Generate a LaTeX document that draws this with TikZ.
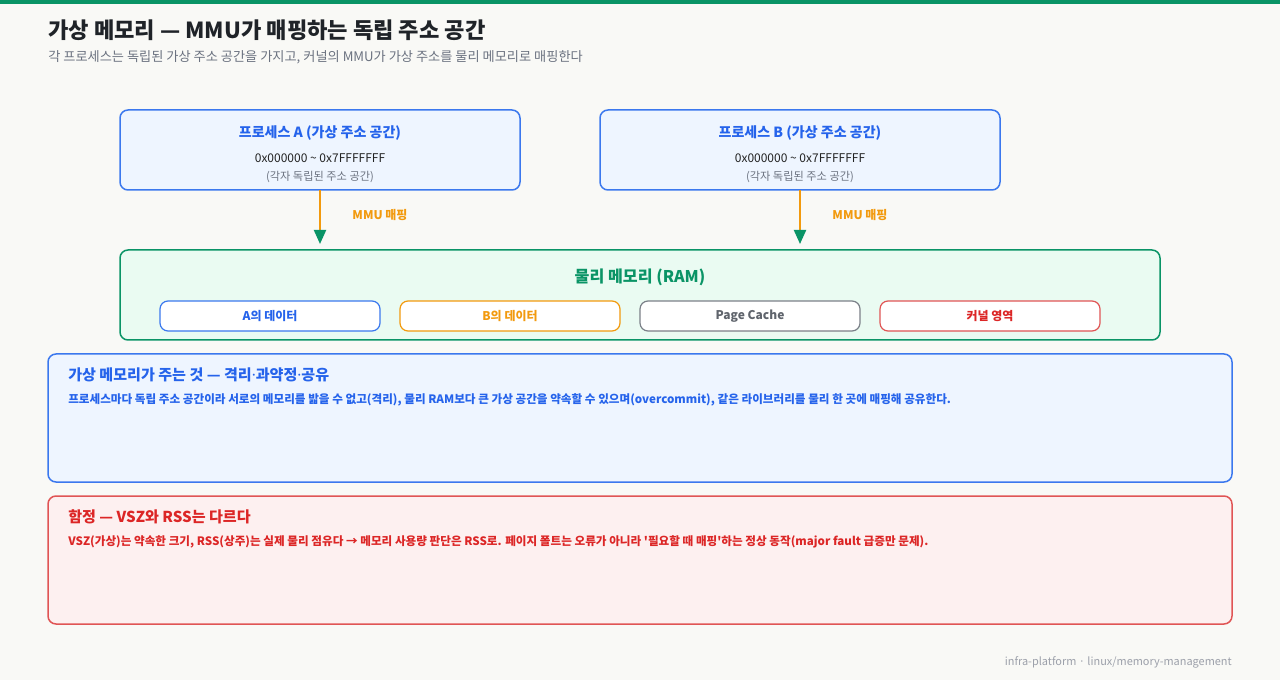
\documentclass[tikz,border=0pt]{standalone}
\usepackage{fontspec}
\setmainfont{Noto Sans CJK KR}
\newfontfamily\latinf{Noto Sans}
\newcommand{\mdot}{{\latinf ·}}
\usetikzlibrary{arrows.meta}
\definecolor{bg}{HTML}{F9F9F6}
\definecolor{topbar}{HTML}{0A9466}
\definecolor{titlec}{HTML}{1F2328}
\definecolor{subc}{HTML}{6B7280}
\definecolor{blueT}{HTML}{2563EB}
\definecolor{blueB}{HTML}{3B78EE}
\definecolor{blueF}{HTML}{EEF5FF}
\definecolor{orangeC}{HTML}{F29A0E}
\definecolor{greenC}{HTML}{0A9466}
\definecolor{greenF}{HTML}{EAFBF2}
\definecolor{grayB}{HTML}{7B8088}
\definecolor{grayT}{HTML}{5F646C}
\definecolor{redT}{HTML}{DC2626}
\definecolor{redB}{HTML}{E05555}
\definecolor{redF}{HTML}{FDF0F0}
\definecolor{darkT}{HTML}{222222}
\definecolor{footc}{HTML}{9CA0AA}
\tikzset{
  procbox/.style={draw=blueB, fill=blueF, line width=1.5pt*0.75, rounded corners=6pt},
  rambox/.style={draw=greenC, fill=greenF, line width=1.5pt*0.75, rounded corners=6pt},
  cell/.style={fill=white, line width=1.2pt*0.75, rounded corners=6pt, minimum width=220*0.75pt, minimum height=30*0.75pt, inner sep=0pt, font=\fontsize{9}{10}\selectfont\bfseries},
  infobox/.style={line width=1.5pt*0.75, rounded corners=6pt},
  maparrow/.style={draw=orangeC, line width=2pt*0.75, -{Triangle[length=14*0.75pt, width=12*0.75pt, fill=greenC, color=greenC]}},
  lbl/.style={inner sep=0pt},
}
\begin{document}
\begin{tikzpicture}[x=0.75pt, y=-0.75pt]
\useasboundingbox (0,0) rectangle (1280,680);
\fill[bg] (0,0) rectangle (1280,680);
\fill[topbar] (0,0) rectangle (1280,4);
% title
\node[lbl, anchor=west, text=titlec, font=\fontsize{16.6}{19}\selectfont\bfseries] (title) at (48,30) {가상 메모리 — MMU가 매핑하는 독립 주소 공간};
\node[lbl, anchor=west, text=subc, font=\fontsize{9.9}{12}\selectfont] (sub) at (48,57) {각 프로세스는 독립된 가상 주소 공간을 가지고, 커널의 MMU가 가상 주소를 물리 메모리로 매핑한다};
% process boxes
\draw[procbox] (120,110) rectangle (520,190);
\coordinate (pA) at (320,190);
\node[lbl, text=blueT, font=\fontsize{10.5}{12}\selectfont\bfseries] (pAt) at (320,133) {프로세스 A (가상 주소 공간)};
\node[lbl, text=darkT, font=\fontsize{9}{10}\selectfont] (pAr) at (320,158) {0x000000 \textasciitilde{} 0x7FFFFFFF};
\node[lbl, text=subc, font=\fontsize{8.4}{10}\selectfont] (pAn) at (320,177) {(각자 독립된 주소 공간)};
\draw[procbox] (600,110) rectangle (1000,190);
\coordinate (pB) at (800,190);
\node[lbl, text=blueT, font=\fontsize{10.5}{12}\selectfont\bfseries] (pBt) at (800,133) {프로세스 B (가상 주소 공간)};
\node[lbl, text=darkT, font=\fontsize{9}{10}\selectfont] (pBr) at (800,158) {0x000000 \textasciitilde{} 0x7FFFFFFF};
\node[lbl, text=subc, font=\fontsize{8.4}{10}\selectfont] (pBn) at (800,177) {(각자 독립된 주소 공간)};
% RAM
\draw[rambox] (120,250) rectangle (1160,340);
\coordinate (rA) at (320,244);
\coordinate (rB) at (800,244);
\node[lbl, text=greenC, font=\fontsize{12.1}{14}\selectfont\bfseries] (ramt) at (640,277) {물리 메모리 (RAM)};
\node[cell, draw=blueB, text=blueT] (c1) at (270,316) {A의 데이터};
\node[cell, draw=orangeC, text=orangeC] (c2) at (510,316) {B의 데이터};
\node[cell, draw=grayB, text=grayT] (c3) at (750,316) {Page Cache};
\node[cell, draw=redB, text=redT] (c4) at (990,316) {커널 영역};
% arrows
\draw[maparrow] (pA) -- (rA);
\draw[maparrow] (pB) -- (rB);
\node[lbl, text=orangeC, font=\fontsize{9}{10}\selectfont\bfseries] (mA) at (380,215) {MMU 매핑};
\node[lbl, text=orangeC, font=\fontsize{9}{10}\selectfont\bfseries] (mB) at (860,215) {MMU 매핑};
% info box 1
\draw[infobox, draw=blueB, fill=blueF] (48,354) rectangle (1232,482);
\node[lbl, anchor=west, text=blueT, font=\fontsize{11.3}{13}\selectfont\bfseries] (i1t) at (68,375) {가상 메모리가 주는 것 — 격리\mdot 과약정\mdot 공유};
\node[lbl, anchor=west, text=blueT, font=\fontsize{8.7}{10}\selectfont\bfseries] (i1b) at (68,400) {프로세스마다 독립 주소 공간이라 서로의 메모리를 밟을 수 없고(격리), 물리 RAM보다 큰 가상 공간을 약속할 수 있으며(overcommit), 같은 라이브러리를 물리 한 곳에 매핑해 공유한다.};
% info box 2
\draw[infobox, draw=redB, fill=redF] (48,496) rectangle (1232,624);
\node[lbl, anchor=west, text=redT, font=\fontsize{11.3}{13}\selectfont\bfseries] (i2t) at (68,517) {함정 — VSZ와 RSS는 다르다};
\node[lbl, anchor=west, text=redT, font=\fontsize{8.7}{10}\selectfont\bfseries] (i2b) at (68,542) {VSZ(가상)는 약속한 크기, RSS(상주)는 실제 물리 점유다 → 메모리 사용량 판단은 RSS로. 페이지 폴트는 오류가 아니라 \textquotesingle 필요할 때 매핑\textquotesingle 하는 정상 동작(major fault 급증만 문제).};
% footer
\node[lbl, anchor=east, text=footc, font=\fontsize{8.2}{10}\selectfont] (foot) at (1232,662) {infra-platform · linux/memory-management};
\end{tikzpicture}
\end{document}
